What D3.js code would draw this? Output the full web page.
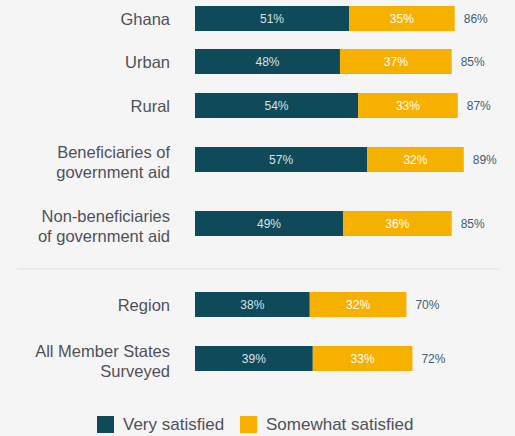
<!DOCTYPE html>
<html>
<head>
<meta charset="utf-8">
<script src="https://cdn.jsdelivr.net/npm/d3@7"></script>
<style>
  body { margin: 0; background: #f5f5f5; }
  svg { display: block; }
</style>
</head>
<body>
<div id="chart"></div>
<script>
// data
const categories = [`Ghana`, `Urban`, `Rural`, `Beneficiaries of government aid`,
                    `Non-beneficiaries of government aid`, `Region`, `All Member States Surveyed`];
const labelLines = [[`Ghana`], [`Urban`], [`Rural`], [`Beneficiaries of`, `government aid`],
                    [`Non-beneficiaries`, `of government aid`], [`Region`], [`All Member States`, `Surveyed`]];
const verySatisfied = [51, 48, 54, 57, 49, 38, 39];
const somewhatSatisfied = [35, 37, 33, 32, 36, 32, 33];
const totals = [86, 85, 87, 89, 85, 70, 72];
const seriesNames = [`Very satisfied`, `Somewhat satisfied`];

// constants
const width = 515;
const height = 436;
const fontFamily = `"Liberation Sans", Arial, sans-serif`;
const darkColor = `#0e4a59`;
const yellowColor = `#f6b000`;
const labelColor = `#50505a`;
const barHeight = 25;
const valueFont = `12px ${fontFamily}`;

const xScale = d3.scaleLinear()
                .domain([0, 100])
                .range([195, 497]);
// row centres (rows with two-line labels get more room, plus a gap before the comparison group)
const yScale = d3.scaleOrdinal()
                .domain(categories)
                .range([18.5, 61.5, 105.5, 159.5, 223.5, 304.5, 358.5]);

const svg = d3.select(`#chart`)
            .append(`svg`)
                .attr(`width`, width)
                .attr(`height`, height)
                .style(`background`, `#f5f5f5`);

const rows = categories.map((c, i) => ({
    cat: c, lines: labelLines[i], v: verySatisfied[i], s: somewhatSatisfied[i], t: totals[i]
}));

// separator line
svg.append(`line`)
    .attr(`x1`, 17).attr(`x2`, 500)
    .attr(`y1`, 269).attr(`y2`, 269)
    .attr(`stroke`, `#ebebeb`)
    .attr(`stroke-width`, 2);

const row = svg.selectAll(`g.row`)
    .data(rows)
    .join(`g`)
        .attr(`class`, `row`);

// very satisfied
row.append(`rect`)
    .attr(`x`, xScale(0))
    .attr(`y`, d => yScale(d.cat) - barHeight / 2)
    .attr(`width`, d => xScale(d.v) - xScale(0))
    .attr(`height`, barHeight)
    .attr(`fill`, darkColor);

// somewhat satisfied
row.append(`rect`)
    .attr(`x`, d => xScale(d.v))
    .attr(`y`, d => yScale(d.cat) - barHeight / 2)
    .attr(`width`, d => xScale(d.v + d.s) - xScale(d.v))
    .attr(`height`, barHeight)
    .attr(`fill`, yellowColor);

row.append(`text`)
    .attr(`x`, d => (xScale(0) + xScale(d.v)) / 2)
    .attr(`y`, d => yScale(d.cat) + 4.5)
    .attr(`text-anchor`, `middle`)
    .style(`font`, valueFont)
    .attr(`fill`, `#d9e2e5`)
    .text(d => `${d.v}%`);

row.append(`text`)
    .attr(`x`, d => (xScale(d.v) + xScale(d.v + d.s)) / 2)
    .attr(`y`, d => yScale(d.cat) + 4.5)
    .attr(`text-anchor`, `middle`)
    .style(`font`, valueFont)
    .attr(`fill`, `#ffffff`)
    .text(d => `${d.s}%`);

// totals
row.append(`text`)
    .attr(`x`, d => xScale(d.v + d.s) + 9)
    .attr(`y`, d => yScale(d.cat) + 4.5)
    .style(`font`, valueFont)
    .attr(`fill`, `#3d6170`)
    .text(d => `${d.t}%`);

// category labels
row.append(`text`)
    .attr(`text-anchor`, `end`)
    .style(`font`, `16.5px ${fontFamily}`)
    .attr(`fill`, labelColor)
    .each(function (d) {
        const n = d.lines.length;
        const y0 = yScale(d.cat) + 6 - (n - 1) * 20 / 2 + (n > 1 ? 2.5 : 0);
        d3.select(this).selectAll(`tspan`)
            .data(d.lines)
            .join(`tspan`)
                .attr(`x`, 170)
                .attr(`y`, (l, j) => y0 + j * 20)
                .text(l => l);
    });

// legend
const legendColors = [darkColor, yellowColor];
const legendX = [97, 240];
const legend = svg.selectAll(`g.legend`)
    .data(seriesNames)
    .join(`g`)
        .attr(`class`, `legend`)
        .attr(`transform`, (d, i) => `translate(${legendX[i]}, 416)`);

legend.append(`rect`)
    .attr(`width`, 17)
    .attr(`height`, 17)
    .attr(`fill`, (d, i) => legendColors[i]);

legend.append(`text`)
    .attr(`x`, 26)
    .attr(`y`, 14)
    .style(`font`, `17px ${fontFamily}`)
    .attr(`fill`, labelColor)
    .text(d => d);
</script>
</body>
</html>
